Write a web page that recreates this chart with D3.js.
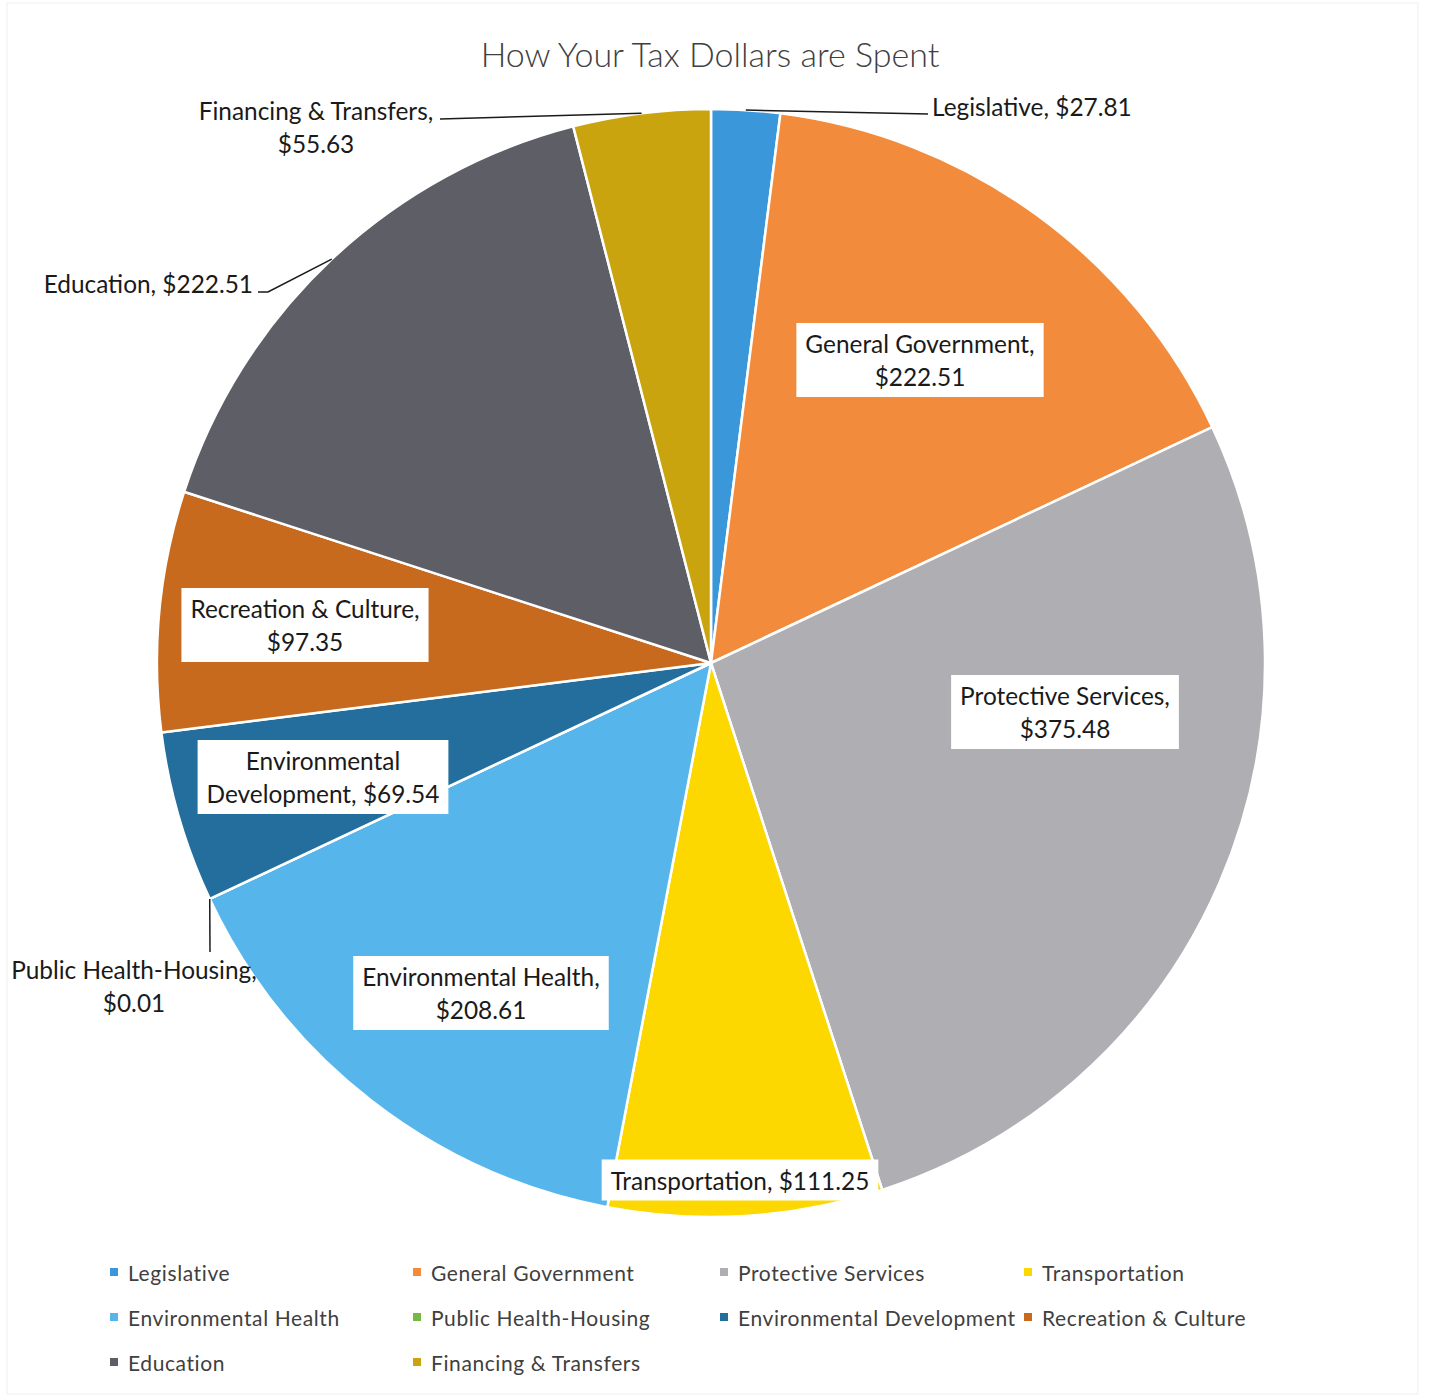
<!DOCTYPE html>
<html>
<head>
<meta charset="utf-8">
<script src="https://cdn.jsdelivr.net/npm/d3@7/dist/d3.min.js"></script>
<style>
  html, body { margin: 0; padding: 0; background: #fff; }
  svg { display: block; }
  text { font-family: Lato, "Open Sans", sans-serif; }
</style>
</head>
<body>
<svg id="chart" width="1429" height="1400"></svg>
<script>
// ---- data ----
const categories = ["Legislative", "General Government", "Protective Services", "Transportation",
  "Environmental Health", "Public Health-Housing", "Environmental Development",
  "Recreation & Culture", "Education", "Financing & Transfers"];
const values = [27.81, 222.51, 375.48, 111.25, 208.61, 0.01, 69.54, 97.35, 222.51, 55.63];
const colors = ["#3A97DA", "#F28C3C", "#AEAEB3", "#FDD800", "#56B6EC", "#76B745",
  "#236E9C", "#C76A1E", "#5D5E66", "#C9A40E"];
const title = "How Your Tax Dollars are Spent";

// ---- layout (label placement, not data) ----
const labelLayout = [
  {type: "free", lines: ["Legislative, $27.81"], x: 932, y: 106, anchor: "start", lead: [[928, 114]]},
  {type: "box", lines: ["General Government,", "$222.51"], x: 920, y: 360},
  {type: "box", lines: ["Protective Services,", "$375.48"], x: 1065, y: 712},
  {type: "box", lines: ["Transportation, $111.25"], x: 740, y: 1180},
  {type: "box", lines: ["Environmental Health,", "$208.61"], x: 481, y: 993},
  {type: "free", lines: ["Public Health-Housing,", "$0.01"], x: 134, y: 986, anchor: "middle", lead: [[210, 952]]},
  {type: "box", lines: ["Environmental", "Development, $69.54"], x: 323, y: 777},
  {type: "box", lines: ["Recreation & Culture,", "$97.35"], x: 305, y: 625},
  {type: "free", lines: ["Education, $222.51"], x: 253, y: 283, anchor: "end", lead: [[268, 292], [258, 292]]},
  {type: "free", lines: ["Financing & Transfers,", "$55.63"], x: 316, y: 127, anchor: "middle", lead: [[440, 119]]}
];

const cx = 711, cy = 663, R = 554;
const fontSize = 24.4, lineH = 33;

const svg = d3.select("#chart");

svg.append("rect").attr("x", 7).attr("y", 3).attr("width", 1411).attr("height", 1391)
  .attr("fill", "none").attr("stroke", "#f0f0f0").attr("stroke-width", 1);

svg.append("text")
  .attr("x", 710).attr("y", 53)
  .attr("text-anchor", "middle").attr("dominant-baseline", "central")
  .attr("font-size", 34).attr("font-weight", 300).attr("fill", "#404040")
  .text(title);

const pie = d3.pie().sort(null).value(d => d)(values);
const arc = d3.arc().innerRadius(0).outerRadius(R);

const g = svg.append("g").attr("transform", `translate(${cx},${cy})`);
g.selectAll("path.slice").data(pie).join("path")
  .attr("class", "slice")
  .attr("d", arc)
  .attr("fill", (d, i) => colors[i])
  .attr("stroke", "#fff").attr("stroke-width", 2.5).attr("stroke-linejoin", "round");

// leader lines
const edgePoint = d => {
  const a = (d.startAngle + d.endAngle) / 2;
  return [cx + R * Math.sin(a), cy - R * Math.cos(a)];
};
const lineGen = d3.line();
labelLayout.forEach((L, i) => {
  if (L.lead) {
    const pts = [edgePoint(pie[i])].concat(L.lead);
    svg.append("path").attr("d", lineGen(pts))
      .attr("fill", "none").attr("stroke", "#1a1a1a").attr("stroke-width", 1.5);
  }
});

// labels
labelLayout.forEach((L, i) => {
  const grp = svg.append("g");
  const n = L.lines.length;
  const t = grp.append("text")
    .attr("font-size", fontSize).attr("fill", "#1a1a1a")
    .attr("text-anchor", L.type === "box" ? "middle" : L.anchor);
  L.lines.forEach((s, k) => {
    t.append("tspan").attr("x", L.x)
      .attr("y", L.y + (k - (n - 1) / 2) * lineH)
      .attr("dominant-baseline", "central")
      .text(s);
  });
  if (L.type === "box") {
    const bb = t.node().getBBox();
    grp.insert("rect", "text")
      .attr("x", bb.x - 9).attr("y", L.y - (n * lineH) / 2 - 4)
      .attr("width", bb.width + 18).attr("height", n * lineH + 8)
      .attr("fill", "#fff");
  }
});

// legend
const legendCols = [110, 413, 720, 1024];
const legendRows = [1272, 1317, 1362];
const lg = svg.append("g");
categories.forEach((c, i) => {
  const col = i % 4, row = Math.floor(i / 4);
  const x = legendCols[col], y = legendRows[row];
  lg.append("rect").attr("x", x).attr("y", y - 4).attr("width", 8).attr("height", 8)
    .attr("fill", colors[i]);
  lg.append("text").attr("x", x + 18).attr("y", y)
    .attr("dominant-baseline", "central")
    .attr("font-size", 21).attr("fill", "#404040").attr("letter-spacing", 0.6)
    .text(c);
});
</script>
</body>
</html>
